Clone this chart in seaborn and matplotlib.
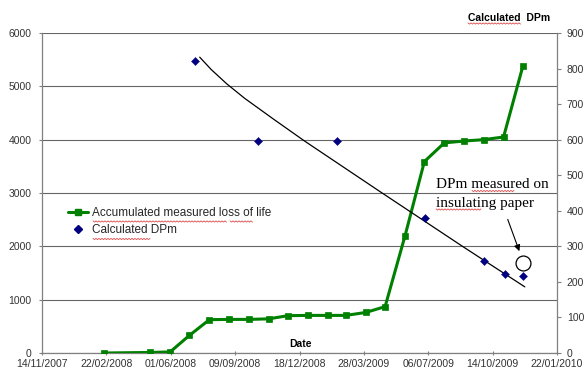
import matplotlib
matplotlib.use("Agg")
import matplotlib.pyplot as plt
import matplotlib.dates as mdates
from matplotlib.lines import Line2D
import numpy as np
import pandas as pd
import seaborn as sns

# Accumulated measured loss of life (left axis)
loss_dates = ["2008-02-18", "2008-04-30", "2008-05-31", "2008-06-30", "2008-07-31",
              "2008-08-31", "2008-09-30", "2008-10-31", "2008-11-30", "2008-12-31",
              "2009-01-31", "2009-02-28", "2009-03-31", "2009-04-30", "2009-05-31",
              "2009-06-30", "2009-07-31", "2009-08-31", "2009-09-30", "2009-10-31",
              "2009-11-30"]
loss_values = [0, 10, 20, 330, 625, 630, 630, 640, 700, 705, 705, 705, 760, 870,
               2200, 3590, 3940, 3975, 4000, 4050, 5380]

# Calculated DPm (right axis)
dpm_dates = ["2008-07-09", "2008-10-15", "2009-02-15", "2009-07-01",
             "2009-10-01", "2009-11-02", "2009-11-30"]
dpm_values = [820, 597, 597, 380, 258, 223, 217]

# Trend curve through the calculated DPm
trend_dates = ["2008-07-16", "2008-08-03", "2008-08-27", "2008-09-24", "2008-11-09",
               "2008-12-26", "2009-04-22", "2009-08-29", "2009-12-03"]
trend_values = [832, 797, 757, 716, 656, 596, 454, 299, 186]

# DPm measured on a paper sample
paper_dates = ["2009-11-30"]
paper_values = [254]

x_start, x_end = "2007-11-14", "2010-01-22"
left_ticks = [0, 1000, 2000, 3000, 4000, 5000, 6000]
right_ticks = [0, 100, 200, 300, 400, 500, 600, 700, 800, 900]

sns.set_theme(style="white")
plt.rcParams["font.family"] = ["Liberation Sans", "DejaVu Sans"]

W, H = 585, 371
fig = plt.figure(figsize=(W / 100, H / 100), dpi=100)
ax = fig.add_axes([42 / W, 1 - 353 / H, 515 / W, 320 / H])
ax2 = ax.twinx()

green = "#008000"
navy = "#000080"
axis_grey = "#808080"
label_col = "#333333"

loss = pd.DataFrame({"date": pd.to_datetime(loss_dates), "value": loss_values})
dpm = pd.DataFrame({"date": pd.to_datetime(dpm_dates), "value": dpm_values})
trend = pd.DataFrame({"date": pd.to_datetime(trend_dates), "value": trend_values})
paper = pd.DataFrame({"date": pd.to_datetime(paper_dates), "value": paper_values})

sns.lineplot(data=loss, x="date", y="value", ax=ax, color=green, linewidth=2.2,
             marker="s", markersize=4.7, markeredgecolor=green, markeredgewidth=0.5,
             legend=False, zorder=3)

sns.lineplot(data=trend, x="date", y="value", ax=ax2, color="black", linewidth=0.9,
             legend=False, zorder=2)
sns.scatterplot(data=dpm, x="date", y="value", ax=ax2, marker="D", s=17, color=navy,
                edgecolor=navy, linewidth=0.3, legend=False, zorder=4)
sns.scatterplot(data=paper, x="date", y="value", ax=ax2, marker="o", s=115, color="white",
                edgecolor="black", linewidth=0.9, legend=False, zorder=4)

# axes ranges and ticks
ax.set_ylim(0, 6000)
ax.set_yticks(left_ticks)
ax2.set_ylim(0, 900)
ax2.set_yticks(right_ticks)
xs, xe = pd.Timestamp(x_start), pd.Timestamp(x_end)
ax.set_xlim(xs, xe)
ax.set_xticks(pd.date_range(xs, xe, freq="100D"))
ax.xaxis.set_major_formatter(mdates.DateFormatter("%d/%m/%Y"))

ax.yaxis.grid(True, color="#666666", linewidth=0.8)
ax.xaxis.grid(False)
ax.set_axisbelow(True)

for name, sp in ax.spines.items():
    sp.set_visible(name in ("left", "bottom"))
    sp.set_color(axis_grey)
    sp.set_linewidth(0.9)
for name, sp in ax2.spines.items():
    sp.set_visible(name == "right")
    sp.set_color(axis_grey)
    sp.set_linewidth(0.9)

ax.tick_params(axis="y", left=True, direction="out", length=2.5, width=0.8,
               color=axis_grey, labelsize=7.5, labelcolor=label_col, pad=5)
ax.tick_params(axis="x", bottom=True, direction="inout", length=3, width=0.8,
               color=axis_grey, labelsize=7.5, labelcolor=label_col, pad=3)
ax2.tick_params(axis="y", right=True, direction="out", length=3, width=0.8,
                color=axis_grey, labelsize=7.5, labelcolor=label_col, pad=4)

ax.set_ylabel("")
ax.set_xlabel("Date", fontsize=7.5, fontweight="bold", color="black")
ax.xaxis.label.set_ha("left")
ax.xaxis.set_label_coords((289 - 42) / 515, 0.012)
ax.xaxis.label.set_va("bottom")

ax2.set_ylabel("Calculated  DPm", rotation=0, fontsize=7.5, fontweight="bold",
               color="black", ha="center", va="center")
ax2.yaxis.set_label_coords((509 - 42) / 515, (353 - 18) / 320)

# annotation for the paper sample
ax2.text(pd.Timestamp("2009-07-18"), 463, "DPm measured on", family="Liberation Serif",
         fontsize=11, color="black", va="baseline", ha="left")
ax2.text(pd.Timestamp("2009-07-18"), 412, "insulating paper", family="Liberation Serif",
         fontsize=11, color="black", va="baseline", ha="left")
ax2.annotate("", xy=(pd.Timestamp("2009-11-26"), 279), xytext=(pd.Timestamp("2009-11-05"), 383),
             arrowprops=dict(arrowstyle="-|>", color="black", lw=0.8, mutation_scale=9))

handles = [
    Line2D([], [], color=green, linewidth=2.2, marker="s", markersize=4.7,
           markeredgecolor=green),
    Line2D([], [], color=navy, linestyle="none", marker="D", markersize=4,
           markeredgecolor=navy),
]
ax2.legend(handles, ["Accumulated measured loss of life", "Calculated DPm"],
           loc="upper left", bbox_to_anchor=(68 / W, 1 - 207 / H),
           bbox_transform=fig.transFigure, frameon=False, fontsize=8.5,
           handlelength=1.7, handletextpad=0.35, labelspacing=0.45, borderpad=0,
           borderaxespad=0)


# spell-check style wavy underlines below some of the words
def wavy(x0, x1, y):
    px = np.arange(x0, x1 + 0.01, 1.5)
    py = y + np.where(np.arange(px.size) % 2 == 0, -0.6, 0.6)
    fig.add_artist(Line2D(px / W, 1 - py / H, transform=fig.transFigure,
                          color="#e04848", linewidth=0.6))


wavy(468, 521, 23.5)     # "Calculated" (axis title)
wavy(93, 227, 221.5)     # "Accumulated measured"
wavy(230, 253, 221.5)    # "loss"
wavy(93, 150, 239)       # "Calculated" (legend)
wavy(472, 515, 191)      # "measured"
wavy(436, 482, 209.5)    # "insulating"

fig.savefig("out.png", dpi=100)
